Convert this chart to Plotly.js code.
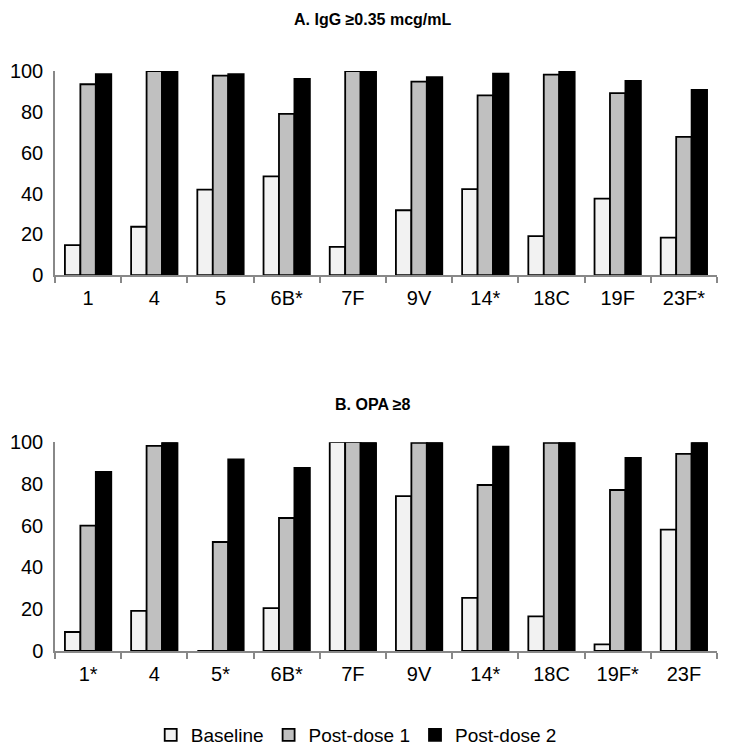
<!DOCTYPE html>
<html>
<head>
<meta charset="utf-8">
<script src="https://cdn.plot.ly/plotly-3.0.1.min.js"></script>
<style>
  body { margin: 0; background: #fff; }
  #chart { width: 736px; height: 747px; }
</style>
</head>
<body>
<div id="chart"></div>
<script>
var iggCats = ['1', '4', '5', '6B*', '7F', '9V', '14*', '18C', '19F', '23F*'];
var iggBaseline = [14.7, 23.7, 41.9, 48.4, 13.9, 31.8, 42.1, 19.1, 37.5, 18.4];
var iggPost1 = [93.5, 100, 97.7, 79, 100, 94.8, 88.1, 98.2, 89.2, 67.7];
var iggPost2 = [98.4, 100, 98.4, 96.1, 99.5, 97, 98.7, 99.8, 95.1, 90.7];

var opaCats = ['1*', '4', '5*', '6B*', '7F', '9V', '14*', '18C', '19F*', '23F'];
var opaBaseline = [9.1, 19.2, 0, 20.5, 100, 74.2, 25.4, 16.6, 3.2, 58.1];
var opaPost1 = [60, 98.2, 52.2, 63.7, 100, 99.7, 79.5, 99.7, 77.1, 94.4];
var opaPost2 = [85.8, 100, 91.8, 87.7, 100, 100, 97.9, 100, 92.5, 100];

var seriesNames = ['Baseline', 'Post-dose 1', 'Post-dose 2'];
var seriesColors = ['#f2f2f2', '#c0c0c0', '#000000'];

function makeBar(x, y, i, xa, ya, showLegend) {
  return {
    type: 'bar',
    x: x,
    y: y,
    name: seriesNames[i],
    xaxis: xa,
    yaxis: ya,
    showlegend: showLegend,
    legendgroup: seriesNames[i],
    marker: {
      color: seriesColors[i],
      line: { color: '#000000', width: 1.8 }
    }
  };
}

var data = [
  makeBar(iggCats, iggBaseline, 0, 'x', 'y', true),
  makeBar(iggCats, iggPost1, 1, 'x', 'y', true),
  makeBar(iggCats, iggPost2, 2, 'x', 'y', true),
  makeBar(opaCats, opaBaseline, 0, 'x2', 'y2', false),
  makeBar(opaCats, opaPost1, 1, 'x2', 'y2', false),
  makeBar(opaCats, opaPost2, 2, 'x2', 'y2', false)
];

var tickFont = { family: 'Liberation Sans, Arial, sans-serif', size: 20, color: '#000' };

var xStyle = {
  type: 'category',
  showline: true,
  linecolor: '#888888',
  linewidth: 1.5,
  ticks: 'outside',
  tickson: 'boundaries',
  ticklen: 6,
  tickcolor: '#888888',
  tickwidth: 1.5,
  showgrid: false,
  ticklabelstandoff: 4,
  tickfont: tickFont
};

var yStyle = {
  range: [0, 100],
  tickvals: [0, 20, 40, 60, 80, 100],
  showline: true,
  linecolor: '#888888',
  linewidth: 1.5,
  showgrid: false,
  zeroline: false,
  ticks: '',
  ticklabelstandoff: 6,
  tickfont: tickFont
};

var layout = {
  width: 736,
  height: 747,
  margin: { l: 55, r: 19, t: 71, b: 96 },
  paper_bgcolor: '#ffffff',
  plot_bgcolor: '#ffffff',
  barmode: 'group',
  bargap: 0.3,
  bargroupgap: 0,
  font: { family: 'Liberation Sans, Arial, sans-serif', color: '#000' },
  xaxis: Object.assign({}, xStyle, { anchor: 'y' }),
  yaxis: Object.assign({}, yStyle, { domain: [0.648, 1], anchor: 'x' }),
  xaxis2: Object.assign({}, xStyle, { anchor: 'y2' }),
  yaxis2: Object.assign({}, yStyle, { domain: [0, 0.36], anchor: 'x2' }),
  legend: {
    orientation: 'h',
    xref: 'paper',
    x: 0.455,
    xanchor: 'center',
    yref: 'container',
    y: 12 / 747,
    yanchor: 'middle',
    itemwidth: 30,
    tracegroupgap: 0,
    font: { size: 19 }
  },
  annotations: [
    {
      text: '<b>A. IgG ≥0.35 mcg/mL</b>',
      xref: 'paper', yref: 'paper',
      x: 0.48, y: 1 + 52 / 580,
      xanchor: 'center', yanchor: 'middle',
      showarrow: false,
      font: { size: 16 }
    },
    {
      text: '<b>B. OPA ≥8</b>',
      xref: 'paper', yref: 'paper',
      x: 0.48, y: (651 - 404) / 580,
      xanchor: 'center', yanchor: 'middle',
      showarrow: false,
      font: { size: 16 }
    }
  ]
};

Plotly.newPlot('chart', data, layout, { displayModeBar: false });
</script>
</body>
</html>
